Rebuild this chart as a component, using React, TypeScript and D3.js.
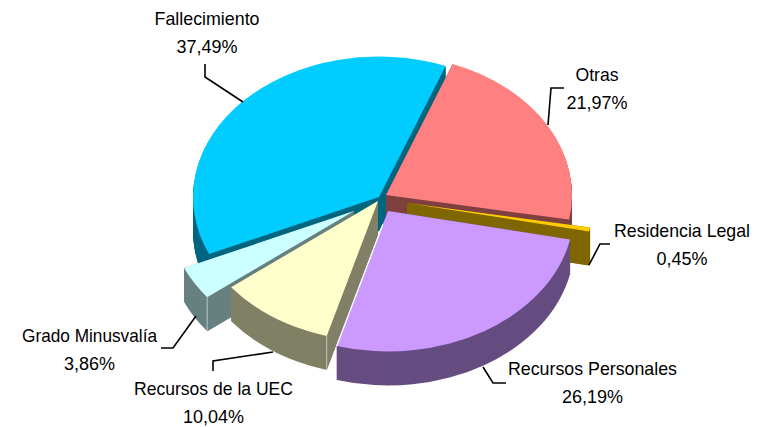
import React from 'react';
import * as d3 from 'd3';

const WIDTH = 761;
const HEIGHT = 427;

// slices clockwise, starting from the top right
const categories = ['Otras', 'Residencia Legal', 'Recursos Personales', 'Recursos de la UEC', 'Grado Minusvalía', 'Fallecimiento'];
const percents = [21.97, 0.45, 26.19, 10.04, 3.86, 37.49];
const percentLabels = ['21,97%', '0,45%', '26,19%', '10,04%', '3,86%', '37,49%'];

const topColors = ['#ff8080', '#ffcc00', '#cc99ff', '#ffffcc', '#ccffff', '#00ccff'];
const wallColors = ['#804040', '#806600', '#664d80', '#808066', '#668080', '#006680'];

// where each exploded slice has its apex on the page
const apexes: [number, number][] = [[386, 195], [407, 203], [388, 211], [378, 201], [354, 211], [379, 197]];
// back to front
const drawOrder = [5, 0, 1, 4, 3, 2];

const labelCenters: [number, number][] = [[597, 81], [682, 237], [592.5, 375], [213.5, 395], [89.5, 342], [207, 25]];
// the names are a bit narrower than the fallback font sets them
const nameWidths = [43, 136, 169, 159, 135, 105];
const lineGap = 28;
const leaders: [number, number][][] = [
  [[564, 88], [551, 88], [548, 125]],
  [[610, 244], [600, 244], [589, 265]],
  [[506, 383], [493, 383], [483, 367]],
  [[213, 371], [213, 361], [273, 352]],
  [[161, 348], [173, 348], [196, 316]],
  [[205, 64], [205, 77], [243, 102]],
];

const RX = 186;
const TILT = 0.755;
const DEPTH = 34;

const rad = (deg: number) => (deg * Math.PI) / 180;

export default function App() {
  const pie = d3.pie<number>().sort(null).startAngle(rad(21)).endAngle(rad(381));
  const slices = pie(percents);
  const arc = d3.arc<d3.PieArcDatum<number>>().innerRadius(0).outerRadius(RX);
  const polyline = d3.line();

  // point on the rim of a slice, relative to its apex
  const rim = (angle: number): [number, number] => [RX * Math.sin(angle), -RX * TILT * Math.cos(angle)];

  // flat wall under one straight edge of a slice
  const edgeWall = (ax: number, ay: number, [rx, ry]: [number, number]) =>
    polyline([[ax, ay], [ax + rx, ay + ry], [ax + rx, ay + ry + DEPTH], [ax, ay + DEPTH]]) + 'Z';

  const textProps = {
    textAnchor: 'middle' as const,
    fontFamily: "'Liberation Sans', Arial, sans-serif",
    fontSize: 19,
    fill: '#000',
  };

  return (
    <svg
      width={WIDTH}
      height={HEIGHT}
      viewBox={`0 0 ${WIDTH} ${HEIGHT}`}
      style={{ position: 'absolute', left: 0, top: 0, background: '#fff' }}
    >
      {drawOrder.map(i => {
        const [ax, ay] = apexes[i];
        const d = arc(slices[i]) as string;
        const [sx, sy] = rim(slices[i].startAngle);
        const [ex, ey] = rim(slices[i].endAngle);
        return (
          <g key={categories[i]}>
            {/* the curved wall is the top face swept downwards */}
            {d3.range(DEPTH, 0, -1).map(dy => (
              <path
                key={dy}
                d={d}
                fill={wallColors[i]}
                transform={`translate(${ax},${ay + dy}) scale(1,${TILT})`}
              />
            ))}
            <path d={edgeWall(ax, ay, [sx, sy])} fill={wallColors[i]} />
            <path d={edgeWall(ax, ay, [ex, ey])} fill={wallColors[i]} />
            {(i === 3 || i === 4) && (
              <line
                x1={ax + sx}
                x2={ax + sx}
                y1={ay + sy}
                y2={ay + sy + DEPTH}
                stroke="#fff"
                strokeOpacity={0.55}
              />
            )}
            <path d={d} fill={topColors[i]} transform={`translate(${ax},${ay}) scale(1,${TILT})`} />
            {i === 2 && (
              <line
                x1={ax + ex * 0.1}
                x2={ax + ex}
                y1={ay + ey * 0.1}
                y2={ay + ey}
                stroke="#fff"
                strokeWidth={1.2}
              />
            )}
          </g>
        );
      })}
      {leaders.map((pts, i) => (
        <path key={i} d={polyline(pts) as string} fill="none" stroke="#000" strokeWidth={1.6} />
      ))}
      {categories.map((name, i) => (
        <g key={name}>
          <text
            {...textProps}
            x={labelCenters[i][0]}
            y={labelCenters[i][1]}
            textLength={nameWidths[i]}
            lengthAdjust="spacingAndGlyphs"
          >
            {name}
          </text>
          <text {...textProps} fontSize={18} x={labelCenters[i][0]} y={labelCenters[i][1] + lineGap}>
            {percentLabels[i]}
          </text>
        </g>
      ))}
    </svg>
  );
}
